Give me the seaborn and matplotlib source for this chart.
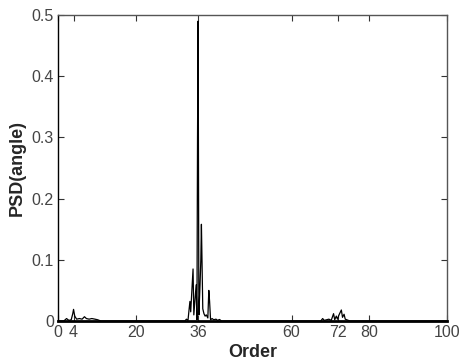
import numpy as np
import matplotlib
matplotlib.use("Agg")
import matplotlib.pyplot as plt
import pandas as pd
import seaborn as sns

# PSD of angle vs order
order_low = [0, 1.5, 2.2, 2.8, 3.4, 3.8, 4.0, 4.3, 4.8, 5.5, 6.2, 6.8, 7.3, 8.0, 8.7, 9.5, 10.2, 11]
psd_low = [0, 0, 0.004, 0.001, 0.002, 0.012, 0.019, 0.008, 0.003, 0.004, 0.003, 0.007,
           0.004, 0.003, 0.004, 0.003, 0.002, 0]

order_mid = [32.6, 33.0, 33.4, 33.7, 33.9, 34.1, 34.4, 34.7, 34.9, 35.2, 35.5, 35.7, 35.85,
             36.0, 36.2, 36.5, 36.7, 36.85, 37.0, 37.2, 37.5, 37.8, 38.1, 38.5, 38.75, 38.95,
             39.2, 39.6, 40.0, 40.6, 41.0, 41.5, 42.0]
psd_mid = [0, 0.003, 0.001, 0.02, 0.032, 0.015, 0.05, 0.085, 0.01, 0.035, 0.059, 0.002, 0.30,
           0.49, 0.01, 0.06, 0.10, 0.158, 0.10, 0.02, 0.012, 0.008, 0.01, 0.005, 0.05, 0.032,
           0.002, 0.004, 0.002, 0.003, 0.001, 0.0025, 0]

order_high = [67.5, 68.0, 68.4, 69.0, 69.6, 70.2, 70.8, 71.1, 71.5, 71.8, 72.2, 72.5, 72.8,
              73.1, 73.5, 73.8, 74.2, 75.0, 100]
psd_high = [0, 0.004, 0.001, 0.002, 0.003, 0.001, 0.012, 0.002, 0.008, 0.003, 0.01, 0.014,
            0.018, 0.006, 0.011, 0.003, 0.002, 0, 0]

xticks = [0, 4, 20, 36, 60, 72, 80, 100]
yticks = [0, 0.1, 0.2, 0.3, 0.4, 0.5]
ytick_labels = ["0", "0.1", "0.2", "0.3", "0.4", "0.5"]

df = pd.DataFrame({
    "Order": order_low + order_mid + order_high,
    "PSD": psd_low + psd_mid + psd_high,
})

sns.set_style("ticks")
plt.rcParams["font.family"] = ["Liberation Sans", "DejaVu Sans"]
plt.rcParams["xtick.direction"] = "in"
plt.rcParams["ytick.direction"] = "in"

fig = plt.figure(figsize=(4.62, 3.63), dpi=100)
ax = fig.add_axes([0.1255, 0.1157, 0.8425, 0.843])

sns.lineplot(data=df, x="Order", y="PSD", ax=ax, color="black", linewidth=0.9,
             estimator=None, sort=False)

ax.set_xlim(0, 100)
ax.set_ylim(0, 0.5)
ax.set_xticks(xticks)
ax.set_xticklabels([str(t) for t in xticks])
ax.set_yticks(yticks)
ax.set_yticklabels(ytick_labels)
ax.tick_params(axis="both", which="both", top=True, right=True, length=4, width=0.8,
               labelsize=11.5, labelcolor="#444444", color="#333333", pad=3)

for side in ["top", "right"]:
    ax.spines[side].set_visible(True)
    ax.spines[side].set_color("#555555")
    ax.spines[side].set_linewidth(1.0)
ax.spines["left"].set_color("black")
ax.spines["left"].set_linewidth(1.0)
ax.spines["bottom"].set_color("black")
ax.spines["bottom"].set_linewidth(2.0)

ax.set_xlabel("Order", fontsize=13, fontweight="bold", labelpad=3)
ax.set_ylabel("PSD(angle)", fontsize=13, fontweight="bold", labelpad=4)

fig.savefig("out.png", dpi=100)
